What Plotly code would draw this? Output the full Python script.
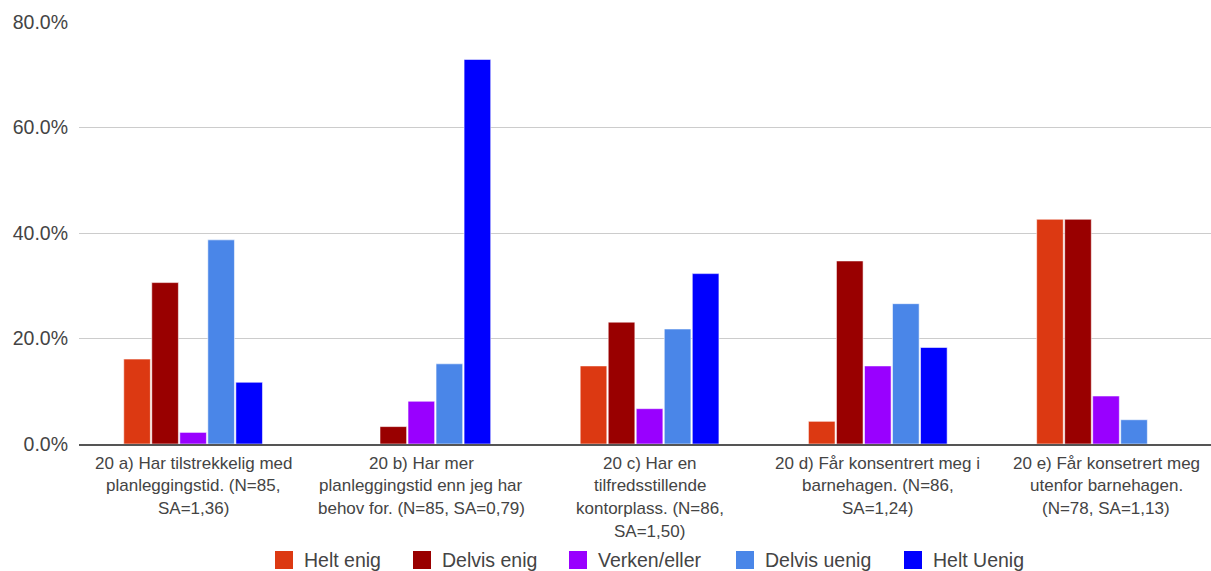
import plotly.graph_objects as go

# Survey statements (category labels, one list entry per wrapped line)
categories = ["20 a)", "20 b)", "20 c)", "20 d)", "20 e)"]
category_lines = [
    ["20 a) Har tilstrekkelig med", "planleggingstid. (N=85,", "SA=1,36)"],
    ["20 b) Har mer", "planleggingstid enn jeg har", "behov for. (N=85, SA=0,79)"],
    ["20 c) Har en", "tilfredsstillende", "kontorplass. (N=86,", "SA=1,50)"],
    ["20 d) Får konsentrert meg i", "barnehagen. (N=86,", "SA=1,24)"],
    ["20 e) Får konsetrert meg", "utenfor barnehagen.", "(N=78, SA=1,13)"],
]

# Response shares in percent
helt_enig = [16.1, 0.0, 14.8, 4.3, 42.6]
delvis_enig = [30.6, 3.3, 23.1, 34.7, 42.6]
verken_eller = [2.2, 8.1, 6.7, 14.8, 9.1]
delvis_uenig = [38.7, 15.2, 21.8, 26.6, 4.6]
helt_uenig = [11.7, 72.9, 32.3, 18.3, 0.0]

series_names = ["Helt enig", "Delvis enig", "Verken/eller", "Delvis uenig", "Helt Uenig"]
series_values = [helt_enig, delvis_enig, verken_eller, delvis_uenig, helt_uenig]
series_colors = ["#dc3912", "#990000", "#9900ff", "#4a86e8", "#0000ff"]

y_ticks = [0, 20, 40, 60, 80]
y_tick_labels = ["0.0%", "20.0%", "40.0%", "60.0%", "80.0%"]

FONT = "Liberation Sans, Arial, sans-serif"
TEXT = "#444444"

W, H = 1211, 571
M_L, M_R, M_T, M_B = 79, 0, 22, 127
PW, PH = W - M_L - M_R, H - M_T - M_B

fig = go.Figure()
for name, vals, col in zip(series_names, series_values, series_colors):
    fig.add_trace(go.Bar(
        x=categories, y=vals, name=name,
        marker=dict(color=col, line=dict(color="rgba(255,255,255,0.55)", width=1)),
        showlegend=False,
    ))

annotations = []
# Wrapped category labels under each group
for cat, lines in zip(categories, category_lines):
    for i, line in enumerate(lines):
        annotations.append(dict(
            x=cat, xref="x", y=0, yref="paper", yanchor="middle", xanchor="center",
            yshift=-(19 + i * 22.7), text=line, showarrow=False,
            font=dict(family=FONT, size=17, color=TEXT),
        ))

# Legend row: swatch left edges in pixels
legend_x = [275, 413, 569, 736, 904]
legend_cy = 560
sw = 18
shapes = []
for name, col, px in zip(series_names, series_colors, legend_x):
    shapes.append(dict(
        type="rect", xref="paper", yref="paper",
        x0=(px - M_L) / PW, x1=(px + sw - M_L) / PW,
        y0=(M_T + PH - (legend_cy + sw / 2)) / PH, y1=(M_T + PH - (legend_cy - sw / 2)) / PH,
        fillcolor=col, line=dict(width=0),
    ))
    annotations.append(dict(
        x=(px + 27 - M_L) / PW, xref="paper", xanchor="left",
        y=(M_T + PH - legend_cy) / PH, yref="paper", yanchor="middle",
        text=name, showarrow=False,
        font=dict(family=FONT, size=19.5, color=TEXT),
    ))

fig.update_layout(
    width=W, height=H,
    margin=dict(l=M_L, r=M_R, t=M_T, b=M_B, pad=0),
    paper_bgcolor="white", plot_bgcolor="white",
    barmode="group", bargap=0.386, bargroupgap=0.05,
    font=dict(family=FONT, color=TEXT),
    annotations=annotations, shapes=shapes,
    xaxis=dict(
        range=[-0.5, 4.46], showticklabels=False, ticks="",
        showgrid=False, showline=True, linecolor="#555555", linewidth=1.5,
        zeroline=False, fixedrange=True,
    ),
    yaxis=dict(
        range=[0, 80], tickmode="array", tickvals=y_ticks, ticktext=y_tick_labels,
        tickfont=dict(family=FONT, size=19.5, color=TEXT),
        showgrid=True, gridcolor="#cccccc", gridwidth=1,
        zeroline=False, showline=False, ticks="", ticklabelstandoff=10,
    ),
)

fig.write_html("out.html")
